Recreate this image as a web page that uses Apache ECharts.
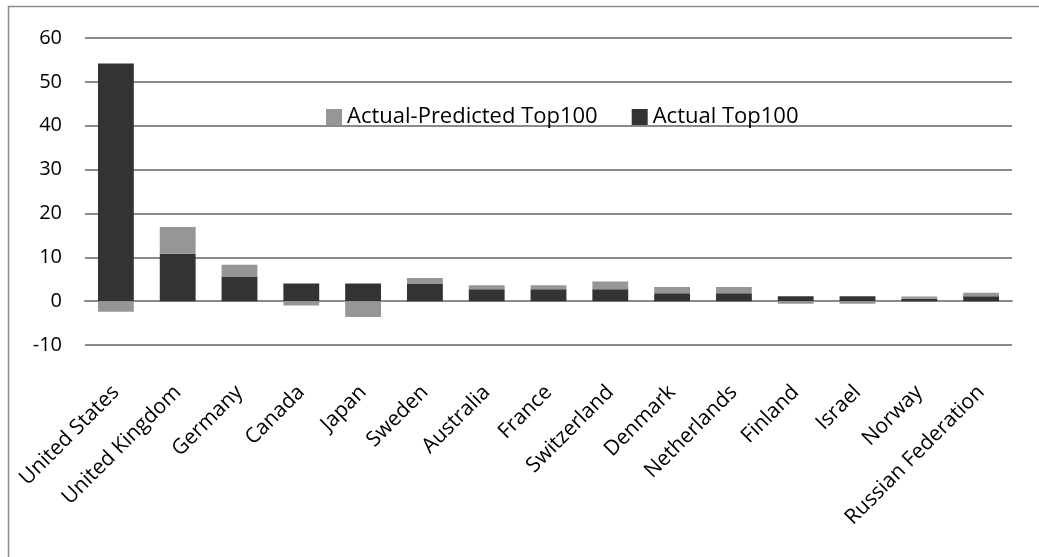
<!DOCTYPE html>
<html>
<head>
<meta charset="utf-8">
<style>
  html, body { margin: 0; padding: 0; background: #ffffff; }
  #chart { width: 1039px; height: 557px; }
</style>
<script src="https://cdn.jsdelivr.net/npm/echarts@6/dist/echarts.min.js"></script>
</head>
<body>
<div id="chart"></div>
<script>
// Countries on the category axis
const countries = [
  'United States', 'United Kingdom', 'Germany', 'Canada', 'Japan',
  'Sweden', 'Australia', 'France', 'Switzerland', 'Denmark',
  'Netherlands', 'Finland', 'Israel', 'Norway', 'Russian Federation'
];
// Actual Top100 (dark, base of the stack)
const actualTop100 = [54.2, 10.8, 5.6, 4.0, 4.0, 4.0, 2.7, 2.7, 2.7, 1.8, 1.8, 1.1, 1.1, 0.55, 1.1];
// Actual minus predicted (light, stacked on top / below zero)
const actualMinusPredicted = [-2.4, 6.1, 2.7, -1.0, -3.6, 1.3, 0.9, 0.9, 1.8, 1.4, 1.4, -0.6, -0.6, 0.5, 0.8];
// Value axis ticks
const yTicks = [-10, 0, 10, 20, 30, 40, 50, 60];

const FONT = '"Open Sans", sans-serif';
const chart = echarts.init(document.getElementById('chart'), null, { renderer: 'canvas' });

chart.setOption({
  animation: false,
  backgroundColor: '#ffffff',
  graphic: [{
    type: 'rect',
    shape: { x: 8.5, y: 6.5, width: 1060, height: 580 },
    style: { fill: 'none', stroke: '#8a8a8a', lineWidth: 1.5 },
    silent: true,
    z: -1
  }],
  legend: {
    data: ['Actual-Predicted Top100', 'Actual Top100'],
    left: 321,
    top: 101,
    itemWidth: 16,
    itemHeight: 16,
    itemGap: 34,
    icon: 'rect',
    textStyle: { fontFamily: FONT, fontSize: 22, color: '#000000', padding: [0, 0, 0, 0] }
  },
  grid: { left: 85, right: 27, top: 38, bottom: 212, containLabel: false },
  xAxis: {
    type: 'category',
    data: countries,
    position: 'bottom',
    axisLine: { onZero: true, lineStyle: { color: '#8a8a8a', width: 2 } },
    axisTick: { show: false },
    axisLabel: {
      interval: 0,
      rotate: 45,
      margin: 44,
      fontFamily: FONT,
      fontSize: 21,
      color: '#000000'
    }
  },
  yAxis: {
    type: 'value',
    min: yTicks[0],
    max: yTicks[yTicks.length - 1],
    interval: 10,
    axisLine: { show: false },
    axisTick: { show: false },
    axisLabel: { margin: 23, fontFamily: FONT, fontSize: 20, color: '#000000' },
    splitLine: { lineStyle: { color: '#8a8a8a', width: 2 } }
  },
  series: [
    {
      name: 'Actual Top100',
      type: 'bar',
      stack: 'top100',
      data: actualTop100,
      barWidth: '58%',
      itemStyle: { color: '#333333' }
    },
    {
      name: 'Actual-Predicted Top100',
      type: 'bar',
      stack: 'top100',
      data: actualMinusPredicted,
      barWidth: '58%',
      itemStyle: { color: '#969696' }
    }
  ]
});
</script>
</body>
</html>
